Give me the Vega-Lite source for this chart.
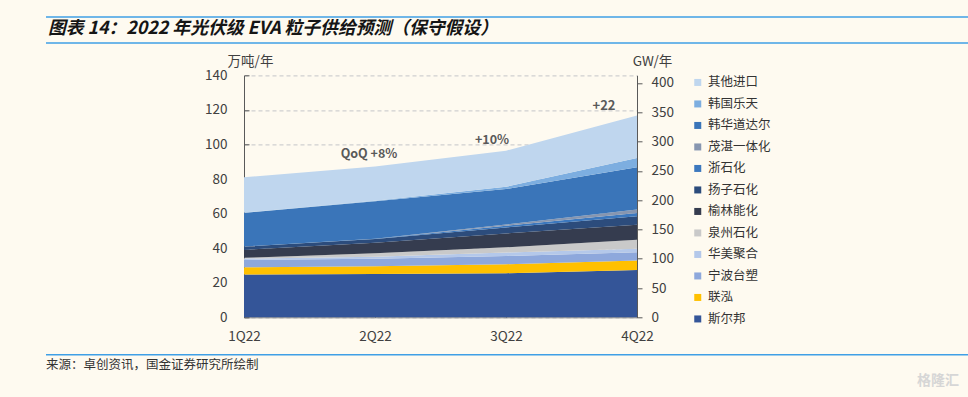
{
  "$schema": "https://vega.github.io/schema/vega-lite/v6.json",
  "background": "#FEFAF0",
  "padding": {"left": 45, "top": 16, "right": 0, "bottom": 0},
  "config": {"view": {"stroke": null}, "font": "Noto Sans CJK SC"},
  "datasets": {
    "supply": [
      {"q": "1Q22", "co": "斯尔邦", "ord": 1, "v": 24.7},
      {"q": "2Q22", "co": "斯尔邦", "ord": 1, "v": 25.1},
      {"q": "3Q22", "co": "斯尔邦", "ord": 1, "v": 25.5},
      {"q": "4Q22", "co": "斯尔邦", "ord": 1, "v": 27.4},
      {"q": "1Q22", "co": "联泓", "ord": 2, "v": 4.2},
      {"q": "2Q22", "co": "联泓", "ord": 2, "v": 4.4},
      {"q": "3Q22", "co": "联泓", "ord": 2, "v": 5.2},
      {"q": "4Q22", "co": "联泓", "ord": 2, "v": 5.4},
      {"q": "1Q22", "co": "宁波台塑", "ord": 3, "v": 4.3},
      {"q": "2Q22", "co": "宁波台塑", "ord": 3, "v": 4.3},
      {"q": "3Q22", "co": "宁波台塑", "ord": 3, "v": 4.8},
      {"q": "4Q22", "co": "宁波台塑", "ord": 3, "v": 4.8},
      {"q": "1Q22", "co": "华美聚合", "ord": 4, "v": 0.8},
      {"q": "2Q22", "co": "华美聚合", "ord": 4, "v": 1.3},
      {"q": "3Q22", "co": "华美聚合", "ord": 4, "v": 2.0},
      {"q": "4Q22", "co": "华美聚合", "ord": 4, "v": 2.0},
      {"q": "1Q22", "co": "泉州石化", "ord": 5, "v": 0.4},
      {"q": "2Q22", "co": "泉州石化", "ord": 5, "v": 1.9},
      {"q": "3Q22", "co": "泉州石化", "ord": 5, "v": 3.0},
      {"q": "4Q22", "co": "泉州石化", "ord": 5, "v": 5.2},
      {"q": "1Q22", "co": "榆林能化", "ord": 6, "v": 4.6},
      {"q": "2Q22", "co": "榆林能化", "ord": 6, "v": 6.2},
      {"q": "3Q22", "co": "榆林能化", "ord": 6, "v": 8.0},
      {"q": "4Q22", "co": "榆林能化", "ord": 6, "v": 8.8},
      {"q": "1Q22", "co": "扬子石化", "ord": 7, "v": 1.9},
      {"q": "2Q22", "co": "扬子石化", "ord": 7, "v": 2.1},
      {"q": "3Q22", "co": "扬子石化", "ord": 7, "v": 3.5},
      {"q": "4Q22", "co": "扬子石化", "ord": 7, "v": 4.8},
      {"q": "1Q22", "co": "浙石化", "ord": 8, "v": 0},
      {"q": "2Q22", "co": "浙石化", "ord": 8, "v": 0.1},
      {"q": "3Q22", "co": "浙石化", "ord": 8, "v": 1.0},
      {"q": "4Q22", "co": "浙石化", "ord": 8, "v": 2.0},
      {"q": "1Q22", "co": "茂湛一体化", "ord": 9, "v": 0},
      {"q": "2Q22", "co": "茂湛一体化", "ord": 9, "v": 0.1},
      {"q": "3Q22", "co": "茂湛一体化", "ord": 9, "v": 0.7},
      {"q": "4Q22", "co": "茂湛一体化", "ord": 9, "v": 2.0},
      {"q": "1Q22", "co": "韩华道达尔", "ord": 10, "v": 19.5},
      {"q": "2Q22", "co": "韩华道达尔", "ord": 10, "v": 21.6},
      {"q": "3Q22", "co": "韩华道达尔", "ord": 10, "v": 20.5},
      {"q": "4Q22", "co": "韩华道达尔", "ord": 10, "v": 24.4},
      {"q": "1Q22", "co": "韩国乐天", "ord": 11, "v": 0.2},
      {"q": "2Q22", "co": "韩国乐天", "ord": 11, "v": 0.3},
      {"q": "3Q22", "co": "韩国乐天", "ord": 11, "v": 1.3},
      {"q": "4Q22", "co": "韩国乐天", "ord": 11, "v": 5.4},
      {"q": "1Q22", "co": "其他进口", "ord": 12, "v": 20.4},
      {"q": "2Q22", "co": "其他进口", "ord": 12, "v": 19.9},
      {"q": "3Q22", "co": "其他进口", "ord": 12, "v": 20.9},
      {"q": "4Q22", "co": "其他进口", "ord": 12, "v": 24.5}
    ],
    "notes": [
      {"q": "2Q22", "v": 94.5, "t": "QoQ +8%"},
      {"q": "3Q22", "v": 102.3, "t": "+10%"},
      {"q": "4Q22", "v": 122, "t": "+22"}
    ],
    "one": [{}]
  },
  "bounds": "flush",
  "spacing": 32.3,
  "vconcat": [
    {
      "width": 923,
      "height": 26,
      "data": {"name": "one"},
      "layer": [
        {
          "mark": {"type": "rule", "color": "#3F9FE6", "strokeWidth": 1.6},
          "encoding": {
            "x": {"datum": 0, "type": "quantitative", "scale": {"domain": [0, 1], "nice": false}, "axis": null},
            "x2": {"datum": 1},
            "y": {"datum": 1, "type": "quantitative", "scale": {"domain": [0, 1], "nice": false}, "axis": null}
          }
        },
        {
          "mark": {"type": "rule", "color": "#3F9FE6", "strokeWidth": 1.6},
          "encoding": {
            "x": {"datum": 0, "type": "quantitative", "scale": {"domain": [0, 1], "nice": false}, "axis": null},
            "x2": {"datum": 1},
            "y": {"datum": 0, "type": "quantitative", "scale": {"domain": [0, 1], "nice": false}, "axis": null}
          }
        },
        {
          "mark": {"type": "text", "align": "left", "baseline": "middle", "dx": 2, "dy": -1, "font": "Noto Sans CJK SC", "fontSize": 17.8, "fontWeight": "bold", "fontStyle": "italic", "color": "#151515"},
          "encoding": {
            "x": {"datum": 0, "type": "quantitative", "scale": {"domain": [0, 1], "nice": false}, "axis": null},
            "y": {"datum": 0.5, "type": "quantitative", "scale": {"domain": [0, 1], "nice": false}, "axis": null},
            "text": {"value": "图表 14：2022 年光伏级 EVA 粒子供给预测（保守假设）"}
          }
        }
      ]
    },
    {
      "bounds": "full",
      "align": "none",
      "spacing": 10.5,
      "vconcat": [
        {
          "bounds": "flush",
          "spacing": 48,
          "hconcat": [
            {
              "width": 150,
              "height": 242,
              "data": {"name": "one"},
              "mark": {"type": "text"},
              "encoding": {"text": {"value": ""}}
            },
            {
              "width": 393,
              "height": 242,
              "data": {"name": "supply"},
              "layer": [
                {
                  "mark": {"type": "area", "interpolate": "linear"},
                  "encoding": {
                    "x": {
                      "field": "q", "type": "ordinal", "title": null,
                      "scale": {"type": "point", "padding": 0},
                      "axis": {"labelAngle": 0, "labelFontSize": 13.5, "labelColor": "#404040", "labelPadding": 16.5, "tickSize": -4, "tickColor": "#595959", "domainColor": "#7F7F7F", "grid": false}
                    },
                    "y": {
                      "field": "v", "type": "quantitative", "stack": "zero",
                      "scale": {"domain": [0, 140], "nice": false},
                      "axis": {
                        "orient": "left",
                        "title": "万吨/年", "titleAngle": 0, "titleX": 6, "titleY": -7, "titleAlign": "center", "titleBaseline": "bottom",
                        "titleFontSize": 13.5, "titleFontWeight": "normal", "titleColor": "#404040",
                        "values": [0, 20, 40, 60, 80, 100, 120, 140], "labelOverlap": false,
                        "labelFontSize": 13.5, "labelColor": "#404040", "labelPadding": 22,
                        "tickSize": -5, "tickColor": "#595959", "domainColor": "#595959",
                        "grid": true, "gridDash": [4, 3], "gridColor": "#CFCFCF", "gridWidth": 1.2
                      }
                    },
                    "color": {
                      "field": "co", "type": "nominal",
                      "scale": {
                        "domain": ["其他进口", "韩国乐天", "韩华道达尔", "茂湛一体化", "浙石化", "扬子石化", "榆林能化", "泉州石化", "华美聚合", "宁波台塑", "联泓", "斯尔邦"],
                        "range": ["#BFD6EE", "#7DAEE0", "#3A75B9", "#8796B0", "#3C78BE", "#2C4C7C", "#353C4F", "#C9C9C9", "#B4C8EA", "#8EA8DC", "#FFC000", "#345598"]
                      },
                      "legend": {
                        "title": null, "orient": "none", "legendX": 645.5, "legendY": 59.2,
                        "symbolType": "square", "symbolSize": 49, "symbolStrokeWidth": 0,
                        "labelFontSize": 12.5, "labelColor": "#333333", "rowPadding": 8.5, "labelOffset": 4, "padding": 0
                      }
                    },
                    "order": {"field": "ord", "type": "quantitative"}
                  }
                },
                {
                  "data": {"name": "notes"},
                  "transform": [{"filter": "datum.t === 'QoQ +8%'"}],
                  "mark": {"type": "text", "fontSize": 12.5, "fontWeight": "bold", "color": "#595959", "dx": -6, "align": "center", "baseline": "middle"},
                  "encoding": {
                    "x": {"field": "q", "type": "ordinal", "title": null},
                    "y": {"field": "v", "type": "quantitative", "scale": {"domain": [0, 140], "nice": false}, "axis": null},
                    "text": {"field": "t"}
                  }
                },
                {
                  "data": {"name": "notes"},
                  "transform": [{"filter": "datum.t === '+10%'"}],
                  "mark": {"type": "text", "fontSize": 12.5, "fontWeight": "bold", "color": "#595959", "dx": -14, "align": "center", "baseline": "middle"},
                  "encoding": {
                    "x": {"field": "q", "type": "ordinal", "title": null},
                    "y": {"field": "v", "type": "quantitative", "scale": {"domain": [0, 140], "nice": false}, "axis": null},
                    "text": {"field": "t"}
                  }
                },
                {
                  "data": {"name": "notes"},
                  "transform": [{"filter": "datum.t === '+22'"}],
                  "mark": {"type": "text", "fontSize": 13, "fontWeight": "bold", "color": "#595959", "dx": -33, "align": "center", "baseline": "middle"},
                  "encoding": {
                    "x": {"field": "q", "type": "ordinal", "title": null},
                    "y": {"field": "v", "type": "quantitative", "scale": {"domain": [0, 140], "nice": false}, "axis": null},
                    "text": {"field": "t"}
                  }
                },
                {
                  "mark": {"type": "rule", "opacity": 0},
                  "encoding": {
                    "y": {
                      "datum": 0, "type": "quantitative",
                      "scale": {"domain": [0, 413], "nice": false},
                      "axis": {
                        "orient": "right", "title": "GW/年", "titleAngle": 0, "titleX": 15, "titleY": -7, "titleAlign": "center", "titleBaseline": "bottom",
                        "titleFontSize": 13.5, "titleFontWeight": "normal", "titleColor": "#404040",
                        "values": [0, 50, 100, 150, 200, 250, 300, 350, 400], "labelOverlap": false,
                        "labelFontSize": 13.5, "labelColor": "#404040", "labelPadding": 9,
                        "tickSize": 5, "tickColor": "#595959", "domainColor": "#595959", "grid": false
                      }
                    }
                  }
                }
              ],
              "resolve": {"scale": {"y": "independent"}, "axis": {"y": "independent"}}
            }
          ]
        },
        {
          "width": 923,
          "height": 42,
          "data": {"name": "one"},
          "layer": [
            {
              "mark": {"type": "rule", "color": "#3F9FE6", "strokeWidth": 1.6},
              "encoding": {
                "x": {"datum": 0, "type": "quantitative", "scale": {"domain": [0, 1], "nice": false}, "axis": null},
                "x2": {"datum": 1},
                "y": {"datum": 1, "type": "quantitative", "scale": {"domain": [0, 1], "nice": false}, "axis": null}
              }
            },
            {
              "mark": {"type": "text", "align": "left", "baseline": "top", "dy": 4, "dx": 0, "fontSize": 12.5, "color": "#333333"},
              "encoding": {
                "x": {"datum": 0, "type": "quantitative", "scale": {"domain": [0, 1], "nice": false}, "axis": null},
                "y": {"datum": 1, "type": "quantitative", "scale": {"domain": [0, 1], "nice": false}, "axis": null},
                "text": {"value": "来源：卓创资讯，国金证券研究所绘制"}
              }
            },
            {
              "mark": {"type": "text", "align": "right", "baseline": "bottom", "dy": -9, "dx": -10, "fontSize": 14, "fontWeight": "bold", "color": "#D6D6D6"},
              "encoding": {
                "x": {"datum": 1, "type": "quantitative", "scale": {"domain": [0, 1], "nice": false}, "axis": null},
                "y": {"datum": 0, "type": "quantitative", "scale": {"domain": [0, 1], "nice": false}, "axis": null},
                "text": {"value": "格隆汇"}
              }
            }
          ]
        }
      ]
    }
  ]
}
